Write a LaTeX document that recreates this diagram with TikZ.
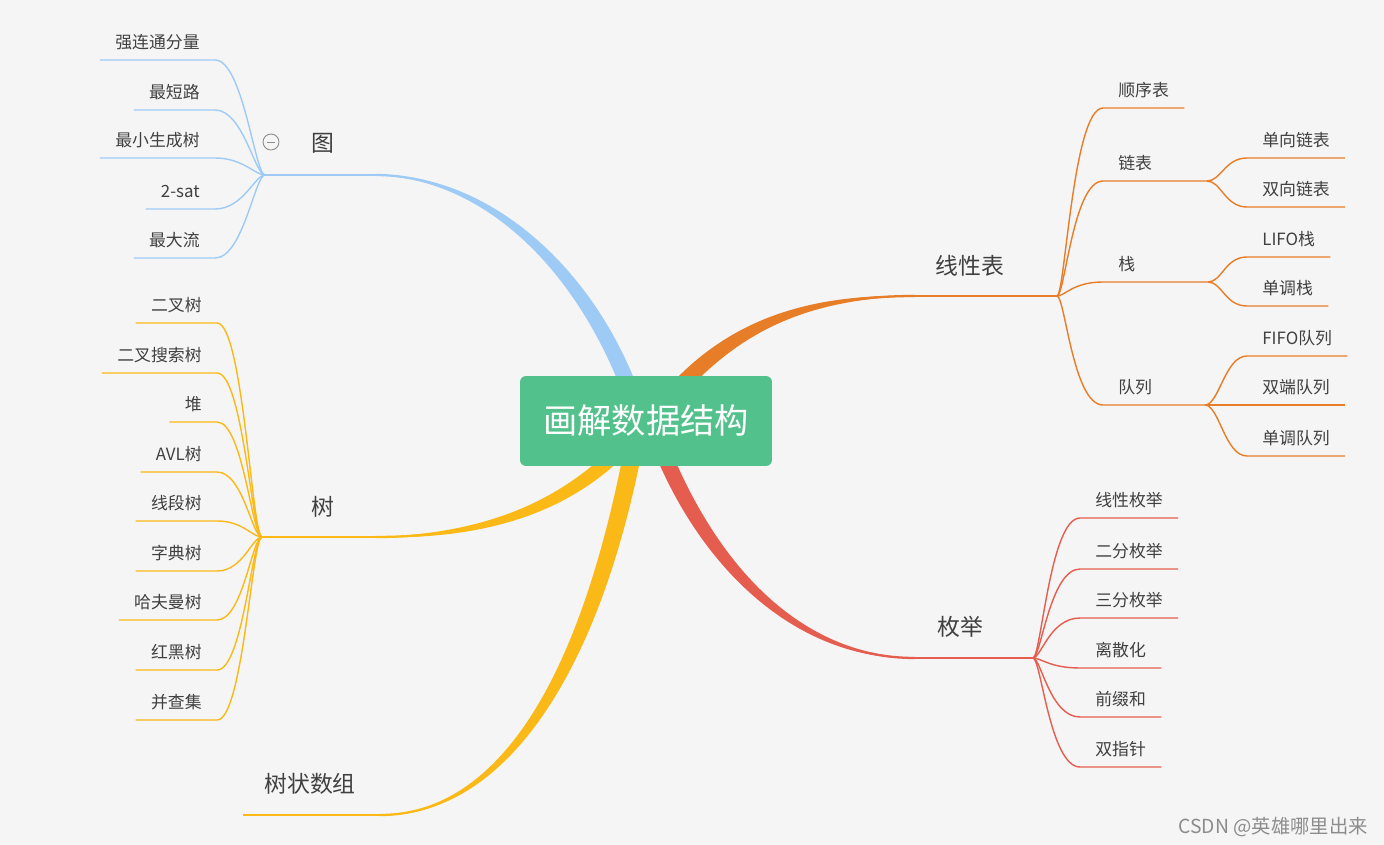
\documentclass[tikz,border=0pt]{standalone}
\usepackage{fontspec}
\setmainfont{Noto Sans CJK SC}
\usetikzlibrary{calc}

\definecolor{bgpaper}{RGB}{245,245,245}
\definecolor{rootgreen}{RGB}{82,193,139}
\definecolor{graphblue}{RGB}{158,203,245}
\definecolor{listorange}{RGB}{232,125,40}
\definecolor{enumred}{RGB}{229,93,79}
\definecolor{treeyellow}{RGB}{251,185,23}
\definecolor{labelgray}{RGB}{64,64,64}
\definecolor{markgray}{RGB}{140,140,140}

\tikzset{
  root/.style={rectangle, rounded corners=0.12cm, fill=rootgreen, text=white,
    minimum width=5.04cm, minimum height=1.8cm, font=\fontsize{19.5}{23}\selectfont},
  topic/.style={text=labelgray, inner sep=0pt, font=\fontsize{13}{16}\selectfont},
  leaf/.style={text=labelgray, inner xsep=0.3cm, inner ysep=0.22cm, text depth=0pt,
    font=\fontsize{9.6}{12}\selectfont},
  stem/.style={line width=1.3pt},
  twig/.style={line width=0.8pt},
  toggle/.style={circle, draw=markgray, line width=0.5pt, minimum size=0.32cm, inner sep=0pt},
}

% tapered band: colour, start, control 1, control 2, end, half-width at start, half-width at control 2
\newcommand\band[7]{%
  \fill[#1] ($#2+#6$) .. controls ($#3+#6$) and ($#4+#7$) .. #5
    .. controls ($#4-#7$) and ($#3-#6$) .. ($#2-#6$) -- cycle;
  \draw[stem, #1] #2 .. controls #3 and #4 .. #5;}

\begin{document}
\begin{tikzpicture}[x=0.02cm, y=-0.02cm]
  \fill[bgpaper] (0,0) rectangle (1384,845);
  \useasboundingbox (0,0) rectangle (1384,845);

  % main branches
  \band{graphblue}{(630,390)}{(580,260)}{(480,175)}{(375,175)}{(7.4,-2.9)}{(0,-3)}
  \band{listorange}{(672,395)}{(730,330)}{(800,296)}{(915,296)}{(6,5.4)}{(0,3)}
  \band{enumred}{(660,445)}{(710,570)}{(800,658)}{(915,658)}{(7.4,-3)}{(0,-3)}
  \band{treeyellow}{(620,450)}{(560,510)}{(480,537)}{(375,537)}{(5,5)}{(0,3)}
  \band{treeyellow}{(635,440)}{(590,680)}{(500,815)}{(380,815)}{(8.8,1.6)}{(0,3)}

  \node[root] (root) at (646,421) {画解数据结构};

  % topics
  \node[topic] (graph) at (323,143) {图};
  \node[topic] (linear) at (970,266) {线性表};
  \node[topic] (enum) at (960,627) {枚举};
  \node[topic] (tree) at (323,507) {树};
  \node[topic] (bit) at (310,784) {树状数组};
  \node[toggle] (fold) at (271,142) {};
  \draw[markgray, line width=0.5pt] (fold.center) +(-4,0) -- +(4,0);

  \coordinate (gHub) at (265,175);
  \coordinate (tHub) at (262,537);
  \coordinate (lHub) at (1057,296);
  \coordinate (eHub) at (1033,658);
  \draw[stem, graphblue] (375,175) -- (gHub);
  \draw[stem, treeyellow] (375,537) -- (tHub);
  \draw[stem, listorange] (915,296) -- (lHub);
  \draw[stem, enumred] (915,658) -- (eHub);
  \draw[stem, treeyellow] (380,815) -- (243,815);

  % graph leaves
  \node[leaf, anchor=south east] (g1) at (215,60) {强连通分量};
  \node[leaf, anchor=south east] (g2) at (215,110) {最短路};
  \node[leaf, anchor=south east] (g3) at (215,158) {最小生成树};
  \node[leaf, anchor=south east] (g4) at (215,209) {2-sat};
  \node[leaf, anchor=south east] (g5) at (215,258) {最大流};
  \draw[twig, graphblue] (gHub) .. controls +(-10,0) and +(28,0) .. (g1.south east) -- (g1.south west);
  \draw[twig, graphblue] (gHub) .. controls +(-10,0) and +(28,0) .. (g2.south east) -- (g2.south west);
  \draw[twig, graphblue] (gHub) .. controls +(-10,0) and +(28,0) .. (g3.south east) -- (g3.south west);
  \draw[twig, graphblue] (gHub) .. controls +(-10,0) and +(28,0) .. (g4.south east) -- (g4.south west);
  \draw[twig, graphblue] (gHub) .. controls +(-10,0) and +(28,0) .. (g5.south east) -- (g5.south west);

  % tree leaves
  \node[leaf, anchor=south east] (t1) at (217,323) {二叉树};
  \node[leaf, anchor=south east] (t2) at (217,373) {二叉搜索树};
  \node[leaf, anchor=south east] (t3) at (217,422) {堆};
  \node[leaf, anchor=south east] (t4) at (217,472) {AVL树};
  \node[leaf, anchor=south east] (t5) at (217,521) {线段树};
  \node[leaf, anchor=south east] (t6) at (217,571) {字典树};
  \node[leaf, anchor=south east] (t7) at (217,620) {哈夫曼树};
  \node[leaf, anchor=south east] (t8) at (217,670) {红黑树};
  \node[leaf, anchor=south east] (t9) at (217,720) {并查集};
  \draw[twig, treeyellow] (tHub) .. controls +(-10,0) and +(26,0) .. (t1.south east) -- (t1.south west);
  \draw[twig, treeyellow] (tHub) .. controls +(-10,0) and +(26,0) .. (t2.south east) -- (t2.south west);
  \draw[twig, treeyellow] (tHub) .. controls +(-10,0) and +(26,0) .. (t3.south east) -- (t3.south west);
  \draw[twig, treeyellow] (tHub) .. controls +(-10,0) and +(26,0) .. (t4.south east) -- (t4.south west);
  \draw[twig, treeyellow] (tHub) .. controls +(-10,0) and +(26,0) .. (t5.south east) -- (t5.south west);
  \draw[twig, treeyellow] (tHub) .. controls +(-10,0) and +(26,0) .. (t6.south east) -- (t6.south west);
  \draw[twig, treeyellow] (tHub) .. controls +(-10,0) and +(26,0) .. (t7.south east) -- (t7.south west);
  \draw[twig, treeyellow] (tHub) .. controls +(-10,0) and +(26,0) .. (t8.south east) -- (t8.south west);
  \draw[twig, treeyellow] (tHub) .. controls +(-10,0) and +(26,0) .. (t9.south east) -- (t9.south west);

  % linear list
  \node[leaf, anchor=south west] (l1) at (1103,108) {顺序表};
  \node[leaf, anchor=south west] (l2) at (1103,181) {链表};
  \node[leaf, anchor=south west] (l3) at (1103,282) {栈};
  \node[leaf, anchor=south west] (l4) at (1103,405) {队列};
  \coordinate (l2Hub) at (1207,181);
  \coordinate (l3Hub) at (1208,282);
  \coordinate (l4Hub) at (1205,405);
  \draw[twig, listorange] (lHub) .. controls +(8,0) and +(-30,0) .. (l1.south west) -- (l1.south east);
  \draw[twig, listorange] (lHub) .. controls +(8,0) and +(-30,0) .. (l2.south west) -- (l2Hub);
  \draw[twig, listorange] (lHub) .. controls +(8,0) and +(-30,0) .. (l3.south west) -- (l3Hub);
  \draw[twig, listorange] (lHub) .. controls +(8,0) and +(-30,0) .. (l4.south west) -- (l4Hub);

  \node[leaf, anchor=south west] (l21) at (1247,158) {单向链表};
  \node[leaf, anchor=south west] (l22) at (1247,207) {双向链表};
  \node[leaf, anchor=south west] (l31) at (1247,257) {LIFO栈};
  \node[leaf, anchor=south west] (l32) at (1247,306) {单调栈};
  \node[leaf, anchor=south west] (l41) at (1247,356) {FIFO队列};
  \node[leaf, anchor=south west] (l42) at (1247,405) {双端队列};
  \node[leaf, anchor=south west] (l43) at (1247,456) {单调队列};
  \draw[twig, listorange] (l2Hub) .. controls +(14,0) and +(-22,0) .. (l21.south west) -- (l21.south east);
  \draw[twig, listorange] (l2Hub) .. controls +(14,0) and +(-22,0) .. (l22.south west) -- (l22.south east);
  \draw[twig, listorange] (l3Hub) .. controls +(14,0) and +(-22,0) .. (l31.south west) -- (l31.south east);
  \draw[twig, listorange] (l3Hub) .. controls +(14,0) and +(-22,0) .. (l32.south west) -- (l32.south east);
  \draw[twig, listorange] (l4Hub) .. controls +(14,0) and +(-22,0) .. (l41.south west) -- (l41.south east);
  \draw[twig, listorange] (l4Hub) .. controls +(14,0) and +(-22,0) .. (l42.south west) -- (l42.south east);
  \draw[twig, listorange] (l4Hub) .. controls +(14,0) and +(-22,0) .. (l43.south west) -- (l43.south east);

  % enumeration
  \node[leaf, anchor=south west] (e1) at (1080,518) {线性枚举};
  \node[leaf, anchor=south west] (e2) at (1080,569) {二分枚举};
  \node[leaf, anchor=south west] (e3) at (1080,618) {三分枚举};
  \node[leaf, anchor=south west] (e4) at (1080,668) {离散化};
  \node[leaf, anchor=south west] (e5) at (1080,717) {前缀和};
  \node[leaf, anchor=south west] (e6) at (1080,767) {双指针};
  \draw[twig, enumred] (eHub) .. controls +(8,0) and +(-30,0) .. (e1.south west) -- (e1.south east);
  \draw[twig, enumred] (eHub) .. controls +(8,0) and +(-30,0) .. (e2.south west) -- (e2.south east);
  \draw[twig, enumred] (eHub) .. controls +(8,0) and +(-30,0) .. (e3.south west) -- (e3.south east);
  \draw[twig, enumred] (eHub) .. controls +(8,0) and +(-30,0) .. (e4.south west) -- (e4.south east);
  \draw[twig, enumred] (eHub) .. controls +(8,0) and +(-30,0) .. (e5.south west) -- (e5.south east);
  \draw[twig, enumred] (eHub) .. controls +(8,0) and +(-30,0) .. (e6.south west) -- (e6.south east);

  \node[text=markgray, anchor=east, inner sep=0pt, font=\fontsize{11}{13}\selectfont] (mark) at (1368,827) {CSDN @英雄哪里出来};
\end{tikzpicture}
\end{document}
